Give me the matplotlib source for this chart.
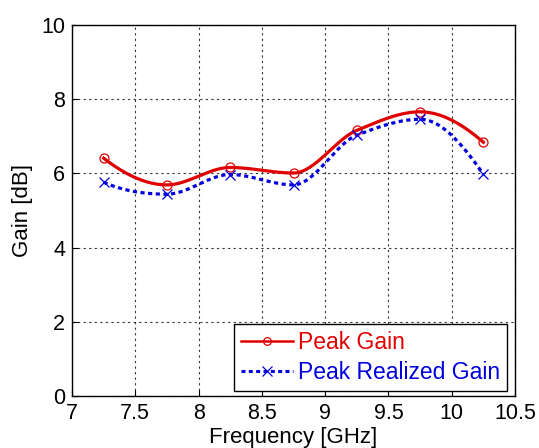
import numpy as np
import matplotlib
matplotlib.use("Agg")
import matplotlib.pyplot as plt

freq = [7.25, 7.75, 8.25, 8.75, 9.25, 9.75, 10.25]
peak_gain = [6.41, 5.69, 6.16, 6.01, 7.16, 7.66, 6.84]
peak_realized_gain = [5.76, 5.44, 5.97, 5.69, 7.03, 7.46, 5.98]
xticks = [7, 7.5, 8, 8.5, 9, 9.5, 10, 10.5]
yticks = [0, 2, 4, 6, 8, 10]


def pchip(x, y, xs):
    x = np.asarray(x, float); y = np.asarray(y, float)
    n = len(x); h = np.diff(x); d = np.diff(y) / h
    m = np.zeros(n)
    for k in range(1, n - 1):
        if d[k - 1] * d[k] > 0:
            w1 = 2 * h[k] + h[k - 1]; w2 = h[k] + 2 * h[k - 1]
            m[k] = (w1 + w2) / (w1 / d[k - 1] + w2 / d[k])
    def end(h0, h1, d0, d1):
        v = ((2 * h0 + h1) * d0 - h0 * d1) / (h0 + h1)
        if np.sign(v) != np.sign(d0):
            v = 0.0
        elif np.sign(d0) != np.sign(d1) and abs(v) > abs(3 * d0):
            v = 3 * d0
        return v
    m[0] = end(h[0], h[1], d[0], d[1])
    m[-1] = end(h[-1], h[-2], d[-1], d[-2])
    idx = np.clip(np.searchsorted(x, xs) - 1, 0, n - 2)
    t = (xs - x[idx]) / h[idx]
    h00 = 2 * t**3 - 3 * t**2 + 1; h10 = t**3 - 2 * t**2 + t
    h01 = -2 * t**3 + 3 * t**2; h11 = t**3 - t**2
    return h00 * y[idx] + h10 * h[idx] * m[idx] + h01 * y[idx + 1] + h11 * h[idx] * m[idx + 1]


plt.rcParams['font.family'] = ['Liberation Sans', 'DejaVu Sans']
fig = plt.figure(figsize=(5.39, 4.48), dpi=100)
ax = fig.add_axes([72 / 539, 1 - 396 / 448, 443 / 539, 371 / 448])

xs = np.linspace(freq[0], freq[-1], 300)
red = '#e00000'
blue = '#0000e0'
ax.plot(xs, pchip(freq, peak_gain, xs), color=red, lw=2.3, zorder=3)
ax.plot(freq, peak_gain, 'o', color=red, mfc='none', ms=6.5, mew=0.9, zorder=4)
ax.plot(xs, pchip(freq, peak_realized_gain, xs), color=blue, lw=2.3, ls=(0, (1.3, 1.1)), zorder=3)
ax.plot(freq, peak_realized_gain, 'x', color=blue, ms=7.5, mew=0.9, zorder=4)

ax.set_xlim(7, 10.5)
ax.set_ylim(0, 10)
ax.set_xticks(xticks)
ax.set_xticklabels([f"{t:g}" for t in xticks])
ax.set_yticks(yticks)
ax.tick_params(direction='in', labelsize=15.5, length=4, pad=5)
ax.grid(True, color='#333333', ls=(0, (2, 3)), lw=0.8)
for s in ax.spines.values():
    s.set_linewidth(1.0)
ax.set_xlabel('Frequency [GHz]', fontsize=16, labelpad=2)
ax.set_ylabel('Gain [dB]', fontsize=16, labelpad=6)

h1, = ax.plot([], [], color=red, lw=1.8, marker='o', mfc='none', ms=5.5, mew=0.9)
h2, = ax.plot([], [], color=blue, lw=2.2, ls=(0, (1.3, 1.1)), marker='x', ms=6.5, mew=0.9)
leg = ax.legend([h1, h2], ['Peak Gain', 'Peak Realized Gain'], loc='lower right',
                bbox_to_anchor=(0.982, 0.0135), fontsize=16.5, fancybox=False,
                edgecolor='black', framealpha=1, borderpad=0.3, handlelength=2.3,
                handletextpad=0.2, labelspacing=0.3, borderaxespad=0.0)
leg.get_frame().set_linewidth(1.0)
leg.texts[0].set_color(red)
leg.texts[1].set_color(blue)

fig.savefig('out.png', dpi=100)
